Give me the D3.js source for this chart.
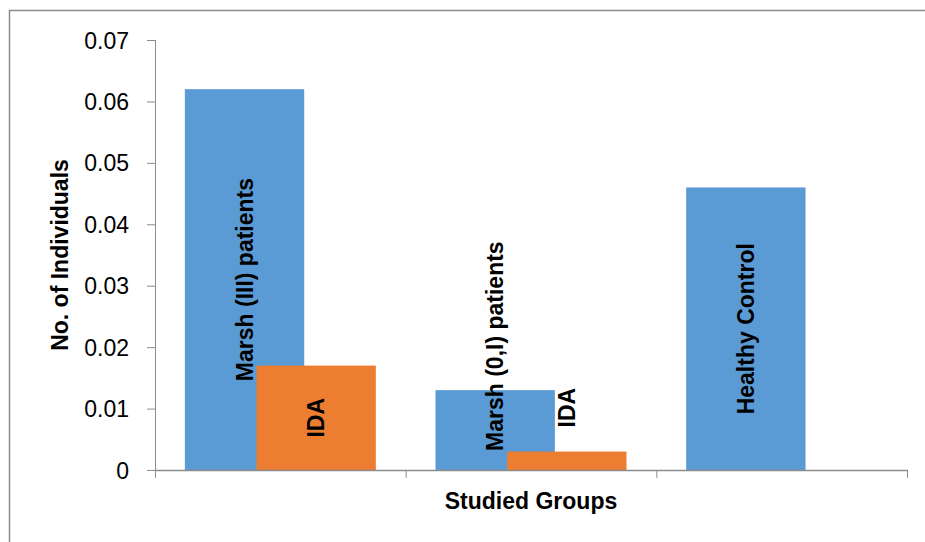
<!DOCTYPE html>
<html>
<head>
<meta charset="utf-8">
<script src="https://cdn.jsdelivr.net/npm/d3@7"></script>
<style>
  body { margin: 0; background: #fff; }
  text { font-family: "Liberation Sans", Arial, sans-serif; }
</style>
</head>
<body>
<script>
// data
var groups = ["Marsh (III) patients", "Marsh (0,I) patients", "Healthy Control"];
var groupValues = [0.062, 0.013, 0.046];
var idaValues = [0.017, 0.003, null];   // no IDA bar for the controls
var idaLabel = "IDA";
var yTicks = [0, 0.01, 0.02, 0.03, 0.04, 0.05, 0.06, 0.07];

var width = 925, height = 542;
// plot edges (note: "top" is taken by window.top)
var plotLeft = 155, plotRight = 907, plotTop = 40, plotBottom = 470;

var svg = d3.select('body').append('svg')
    .attr('width', width)
    .attr('height', height);

// chart border (runs off the right/bottom edge in the original)
svg.append('rect')
    .attr('x', 9.5).attr('y', 10.5)
    .attr('width', 940).attr('height', 560)
    .attr('fill', 'none')
    .attr('stroke', '#8c8c8c')
    .attr('stroke-width', 1.5);

var x = d3.scaleBand().domain(groups).range([plotLeft, plotRight]);
var y = d3.scaleLinear().domain([0, 0.07]).range([plotBottom, plotTop]);

// excel style: gap width 50%, overlap 40%
var barW = x.bandwidth() / 2.1;
var gap = barW * 0.25;
var shift = barW * 0.6;

var bars = [];
groups.forEach(function(g, i) {
    bars.push({ x: x(g) + gap, v: groupValues[i], label: g, color: '#5b9bd5' });
    if (idaValues[i] != null)
        bars.push({ x: x(g) + gap + shift, v: idaValues[i], label: idaLabel, color: '#ed7d31' });
});

svg.selectAll('rect.bar').data(bars)
    .enter().append('rect')
    .attr('class', 'bar')
    .attr('x', function(d) { return d.x; })
    .attr('y', function(d) { return y(d.v); })
    .attr('width', barW)
    .attr('height', function(d) { return y(0) - y(d.v); })
    .attr('fill', function(d) { return d.color; });

// y axis
var yAxis = d3.axisLeft(y)
    .tickValues(yTicks)
    .tickSize(8)
    .tickPadding(18)
    .tickFormat(function(d) { return d === 0 ? '0' : d3.format('.2f')(d); });

var gy = svg.append('g').attr('transform', 'translate(' + plotLeft + ',0)').call(yAxis);
gy.select('.domain').remove();
gy.selectAll('line').attr('stroke', '#8c8c8c');
gy.selectAll('text')
    .attr('font-size', 23)
    .attr('fill', '#000')
    .attr('dy', '0.35em');

svg.append('line')
    .attr('x1', plotLeft + 0.5).attr('x2', plotLeft + 0.5)
    .attr('y1', plotTop).attr('y2', plotBottom + 8)
    .attr('stroke', '#8c8c8c');

// x axis, ticks between the groups
svg.append('line')
    .attr('x1', plotLeft).attr('x2', plotRight + 1)
    .attr('y1', plotBottom + 0.5).attr('y2', plotBottom + 0.5)
    .attr('stroke', '#8c8c8c').attr('stroke-width', 1.5);

var edges = groups.map(function(g) { return x(g); }).concat([x.range()[1]]);
svg.selectAll('line.xtick').data(edges)
    .enter().append('line')
    .attr('class', 'xtick')
    .attr('x1', function(d) { return d + 0.5; })
    .attr('x2', function(d) { return d + 0.5; })
    .attr('y1', plotBottom).attr('y2', plotBottom + 8)
    .attr('stroke', '#8c8c8c');

// bar labels, rotated
var labels = svg.selectAll('text.lab').data(bars)
    .enter().append('text')
    .attr('class', 'lab')
    .attr('font-size', 23)
    .attr('font-weight', 'bold')
    .attr('text-anchor', 'middle')
    .attr('dominant-baseline', 'central')
    .text(function(d) { return d.label; });

labels.each(function(d) {
    var len = this.getComputedTextLength();
    var h = y(0) - y(d.v);
    var cx = d.x + barW / 2;
    // centred when it fits, otherwise pushed up above the bar top
    var cy = len < h ? (y(d.v) + y(0)) / 2 : y(d.v) - 44;
    d3.select(this).attr('transform', 'translate(' + cx + ',' + cy + ') rotate(-90)');
});

// axis titles
svg.append('text')
    .attr('x', (plotLeft + plotRight) / 2)
    .attr('y', 509)
    .attr('text-anchor', 'middle')
    .attr('font-size', 23)
    .attr('font-weight', 'bold')
    .text('Studied Groups');

svg.append('text')
    .attr('transform', 'translate(68,' + (plotTop + plotBottom) / 2 + ') rotate(-90)')
    .attr('text-anchor', 'middle')
    .attr('font-size', 23)
    .attr('font-weight', 'bold')
    .text('No. of Individuals');
</script>
</body>
</html>
